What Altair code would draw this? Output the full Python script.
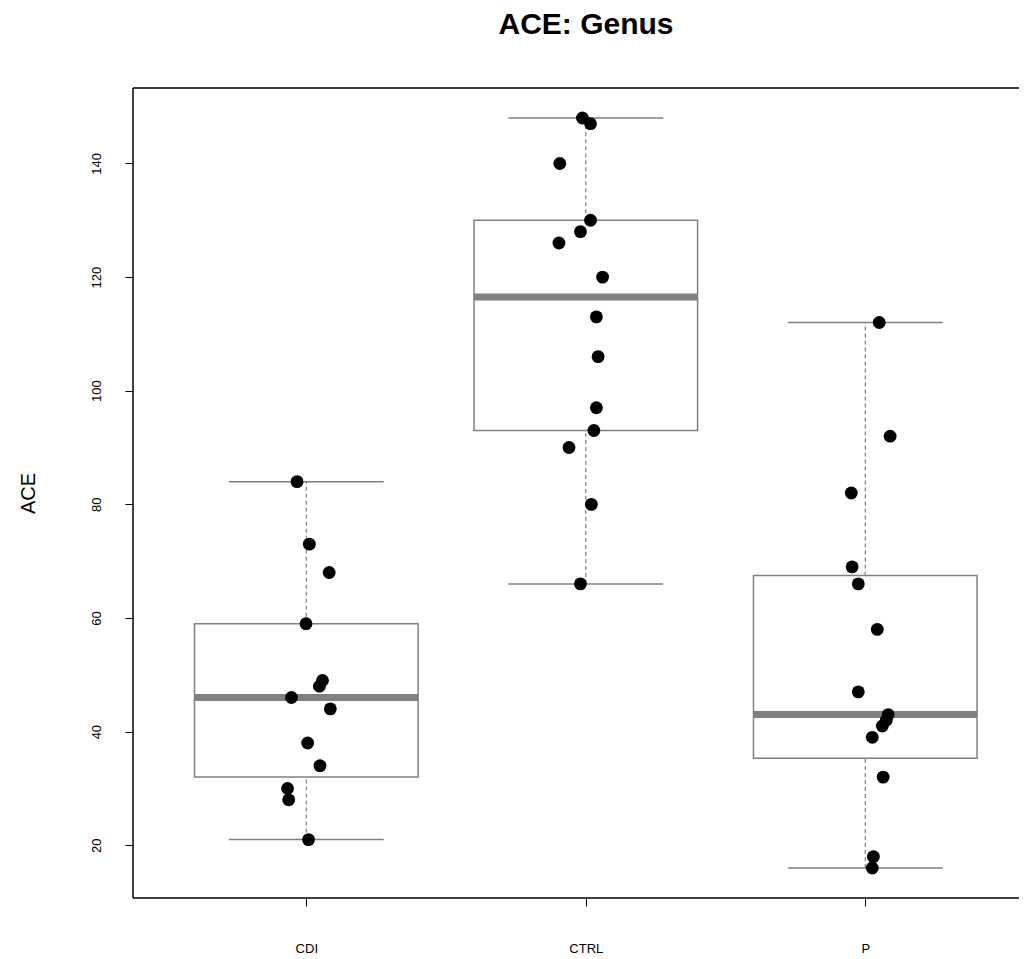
import altair as alt
import pandas as pd

# ---------------- data ----------------
title_text = "ACE: Genus"
groups = ["CDI", "CTRL", "P"]

cdi_values = [84, 73, 68, 59, 49, 48, 46, 44, 38, 34, 30, 28, 21]
cdi_jitter = [-0.033, 0.011, 0.082, -0.001, 0.058, 0.047, -0.053, 0.086, 0.005, 0.049, -0.067, -0.063, 0.008]

ctrl_values = [148, 147, 140, 130, 128, 126, 120, 113, 106, 97, 93, 90, 80, 66]
ctrl_jitter = [-0.012, 0.017, -0.093, 0.017, -0.019, -0.096, 0.060, 0.038, 0.044, 0.038, 0.029, -0.060, 0.020, -0.019]

p_values = [112, 92, 82, 69, 66, 58, 47, 43, 42, 41, 39, 32, 18, 16]
p_jitter = [0.050, 0.089, -0.050, -0.047, -0.025, 0.043, -0.025, 0.082, 0.075, 0.061, 0.025, 0.064, 0.029, 0.025]

whisker_low = [21, 66, 16]
q1 = [32, 93, 35.3]
median = [46, 116.5, 43]
q3 = [59, 130, 67.5]
whisker_high = [84, 148, 112]

y_ticks = [20, 40, 60, 80, 100, 120, 140]

# ---------------- tables ----------------
BOXWEX = 0.4
CAPWEX = 0.277
box_rows = []
for i, g in enumerate(groups):
    pos = i + 1
    box_rows.append(dict(group=g, pos=pos, xl=pos - BOXWEX, xr=pos + BOXWEX,
                         cl=pos - CAPWEX, cr=pos + CAPWEX,
                         wlo=whisker_low[i], q1=q1[i], med=median[i],
                         q3=q3[i], whi=whisker_high[i]))
box_df = pd.DataFrame(box_rows)

pt_rows = []
for i, (vals, jit) in enumerate([(cdi_values, cdi_jitter), (ctrl_values, ctrl_jitter), (p_values, p_jitter)]):
    for v, j in zip(vals, jit):
        pt_rows.append(dict(group=groups[i], x=i + 1 + j, ACE=v))
pt_df = pd.DataFrame(pt_rows)

W, H = 886, 810
xscale = alt.Scale(domain=[0.38, 3.55], nice=False, zero=False)
yscale = alt.Scale(domain=[10.72, 153.28], nice=False, zero=False)

label_expr = "[" + ",".join("'" + g + "'" for g in groups) + "][datum.value - 1]"

FONT = "Liberation Sans"
GRAY = "#808080"

x_axis = alt.Axis(values=[1, 2, 3], labelExpr=label_expr, title=None, domain=False,
                  ticks=True, tickSize=8, tickColor="black", tickWidth=1,
                  labelFont=FONT, labelFontSize=13, labelColor="black",
                  labelBaseline="middle", labelPadding=42, grid=False)
y_axis = alt.Axis(values=y_ticks, title="ACE", domain=False, ticks=True, tickSize=8,
                  tickColor="black", tickWidth=1, labelFont=FONT, labelFontSize=13,
                  labelColor="black", labelAngle=-90, labelAlign="center",
                  labelBaseline="bottom", labelPadding=22, grid=False,
                  titleFont=FONT, titleFontSize=20, titleFontWeight="normal",
                  titleColor="black", titleAngle=-90, titleX=-105, titleY=H / 2,
                  titleAlign="center", titleBaseline="middle")


def X(field):
    return alt.X(field, scale=xscale, axis=x_axis)


def Y(field):
    return alt.Y(field, scale=yscale, axis=y_axis)


base_box = alt.Chart(box_df)

boxes = base_box.mark_rect(fill="white", stroke=GRAY, strokeWidth=1.5).encode(
    x=X("xl:Q"), x2="xr:Q", y=Y("q1:Q"), y2="q3:Q")

whisk_hi = base_box.mark_rule(color=GRAY, strokeWidth=1.2, strokeDash=[4, 3]).encode(
    x=X("pos:Q"), y=Y("q3:Q"), y2="whi:Q")
whisk_lo = base_box.mark_rule(color=GRAY, strokeWidth=1.2, strokeDash=[4, 3]).encode(
    x=X("pos:Q"), y=Y("wlo:Q"), y2="q1:Q")

cap_hi = base_box.mark_rule(color=GRAY, strokeWidth=1.5).encode(
    x=X("cl:Q"), x2="cr:Q", y=Y("whi:Q"))
cap_lo = base_box.mark_rule(color=GRAY, strokeWidth=1.5).encode(
    x=X("cl:Q"), x2="cr:Q", y=Y("wlo:Q"))

med = base_box.mark_rule(color=GRAY, strokeWidth=7).encode(
    x=X("xl:Q"), x2="xr:Q", y=Y("med:Q"))

points = alt.Chart(pt_df).mark_circle(color="black", opacity=1, size=165).encode(
    x=X("x:Q"), y=Y("ACE:Q"))

one_row = alt.Data(values=[{}])
frame_top = alt.Chart(one_row).mark_rule(color="black", strokeWidth=1.5).encode(
    x=alt.value(0), x2=alt.value(W), y=alt.value(0))
frame_bottom = alt.Chart(one_row).mark_rule(color="black", strokeWidth=1.5).encode(
    x=alt.value(0), x2=alt.value(W), y=alt.value(H))
frame_left = alt.Chart(one_row).mark_rule(color="black", strokeWidth=1.5).encode(
    x=alt.value(0), y=alt.value(0), y2=alt.value(H))

title = alt.Chart(one_row).mark_text(
    font=FONT, fontSize=30, fontWeight="bold", color="black",
    align="center", baseline="alphabetic").encode(
    text=alt.value(title_text), x=alt.value(W / 2 + 10), y=alt.value(-54))

chart = alt.layer(
    boxes, whisk_hi, whisk_lo, cap_hi, cap_lo, med, points,
    frame_top, frame_bottom, frame_left, title
).properties(
    width=W, height=H,
    autosize=alt.AutoSizeParams(type="none"),
    padding={"left": 125, "top": 80, "right": 0, "bottom": 60},
).configure_view(stroke=None)

chart.save("out.html", embed_options={"renderer": "svg", "actions": False})
